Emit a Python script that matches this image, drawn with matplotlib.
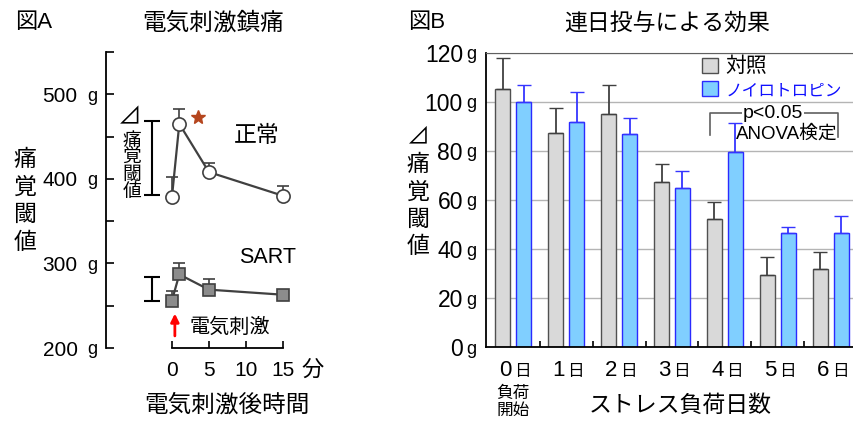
import matplotlib
matplotlib.use("Agg")
import matplotlib.pyplot as plt
from matplotlib.patches import Patch
import numpy as np

plt.rcParams['font.family'] = ['Liberation Sans', 'Noto Sans CJK JP']

# 図A: 電気刺激鎮痛 (g)
time_min = [0, 1, 5, 15]
normal_g = [378, 465, 408, 380]
normal_err = [24, 18, 11, 12]
sart_g = [256, 287, 269, 263]
sart_err = [11, 14, 13, 0]
a_yticks = [200, 300, 400, 500]
a_minor = [250, 350, 450, 550]
a_xticks = [0, 5, 10, 15]

# 図B: 連日投与による効果 (g)
days = ['0', '1', '2', '3', '4', '5', '6']
control = [105.2, 87.4, 95.0, 67.3, 52.3, 29.5, 31.8]
control_err = [12.5, 9.9, 12.0, 7.2, 7.0, 7.1, 7.2]
neuro = [100.0, 91.9, 87.0, 64.7, 79.4, 46.6, 46.6]
neuro_err = [7.0, 12.2, 6.5, 7.2, 11.8, 2.5, 6.7]
b_yticks = [0, 20, 40, 60, 80, 100, 120]

W, H = 854, 421
def fy(py):
    return 1 - py / H

fig = plt.figure(figsize=(W / 100, H / 100), dpi=100)

# ---------- panel A ----------
axA = fig.add_axes([106 / W, fy(348), 194 / W, 296 / H])
axA.set_xlim(-8.9, 17.3)
axA.set_ylim(200, 550)
for s in ['top', 'right']:
    axA.spines[s].set_visible(False)
axA.spines['bottom'].set_bounds(0, 15)
axA.spines['left'].set_linewidth(1.3)
axA.spines['bottom'].set_linewidth(1.3)

zeros = np.zeros(len(time_min))
axA.errorbar(time_min, normal_g, yerr=[zeros, normal_err], fmt='-o', color='#404040',
             mfc='white', mec='#404040', ms=9.5, mew=1.2, lw=1.6, capsize=4, elinewidth=1.2)
axA.errorbar(time_min, sart_g, yerr=[zeros, sart_err], fmt='-s', color='#404040',
             mfc='#8c8c8c', mec='#404040', ms=8, mew=1.2, lw=1.6, capsize=4, elinewidth=1.2)
axA.plot(3.5, 473, marker='*', color='#b5461e', ms=10, ls='none')

axA.set_yticks(a_yticks, [str(v) for v in a_yticks])
axA.set_yticks(a_minor, minor=True)
axA.tick_params(axis='y', which='both', direction='in', length=6, width=1.2,
                labelsize=15, pad=20.5)
for v in a_yticks:
    axA.annotate('g', xy=(0, v), xycoords=axA.get_yaxis_transform(), xytext=(-6.5, 0),
                 textcoords='offset points', ha='right', va='center_baseline', fontsize=13)
axA.set_xticks(a_xticks, [str(v) for v in a_xticks])
axA.tick_params(axis='x', direction='in', length=5, width=1.2, labelsize=15, pad=9)

# brackets
axA.errorbar(-2.7, 425, yerr=44, color='black', capsize=6, lw=1.5, capthick=1.5)
axA.errorbar(-2.7, 269.5, yerr=14.5, color='black', capsize=6, lw=1.5, capthick=1.5)
axA.text(-5.7, 471, '⊿', fontsize=17, ha='center', va='center')
axA.text(-5.4, 414, '痛\n覚\n閾\n値', fontsize=13.5, linespacing=1.0, ha='center', va='center')
axA.annotate('', xy=(0.4, 244), xytext=(0.4, 211),
             arrowprops=dict(arrowstyle='-|>', color='red', lw=2, mutation_scale=12))
axA.text(7.8, 224, '電気刺激', fontsize=14.5, ha='center', va='center')
axA.text(11.4, 451, '正常', fontsize=16.5, ha='center', va='center')
axA.text(12.9, 307, 'SART', fontsize=15.5, ha='center', va='center')

fig.text(313 / W, fy(370), '分', fontsize=16, ha='center', va='center')
fig.text(15 / W, fy(23), '図A', fontsize=16, ha='left', va='center')
fig.text(213 / W, fy(23), '電気刺激鎮痛', fontsize=17, ha='center', va='center')
fig.text(25 / W, fy(201), '痛\n覚\n閾\n値', fontsize=16.5, linespacing=1.25, ha='center', va='center')
fig.text(227 / W, fy(405), '電気刺激後時間', fontsize=17, ha='center', va='center')

# ---------- panel B ----------
axB = fig.add_axes([486 / W, fy(347.3), 372 / W, 294.7 / H])
x = np.arange(len(days))
bw = 0.283
axB.bar(x - 0.198, control, width=bw, color='#d9d9d9', edgecolor='#505050', lw=1, zorder=2)
axB.bar(x + 0.198, neuro, width=bw, color='#80cfff', edgecolor='#2a2aff', lw=1, zorder=2)
z7 = np.zeros(len(days))
axB.errorbar(x - 0.198, control, yerr=[z7, control_err], fmt='none', ecolor='#404040',
             capsize=5, elinewidth=1.3, zorder=3)
axB.errorbar(x + 0.198, neuro, yerr=[z7, neuro_err], fmt='none', ecolor='#3535ff',
             capsize=5, elinewidth=1.3, zorder=3)

axB.set_xlim(-0.51, 6.51)
axB.set_ylim(0, 120)
axB.yaxis.grid(True, color='#b4b4b4', lw=1)
axB.set_axisbelow(True)
axB.spines['top'].set_color('#606060')
axB.spines['left'].set_linewidth(1.3)
axB.spines['bottom'].set_linewidth(1.3)

axB.set_yticks(b_yticks, [str(v) for v in b_yticks])
axB.tick_params(axis='y', length=0, labelsize=16.5, pad=16.6)
for v in b_yticks:
    axB.annotate('g', xy=(0, v), xycoords=axB.get_yaxis_transform(), xytext=(-7, 0),
                 textcoords='offset points', ha='right', va='center_baseline', fontsize=13)
axB.set_xticks([])
axB.set_xticks(x[:-1] + 0.5, minor=True)
axB.tick_params(axis='x', which='minor', direction='in', length=4, width=1.2)
for i, d in enumerate(days):
    axB.annotate(d, xy=(i, 0), xycoords=axB.get_xaxis_transform(), xytext=(-1, -16.5),
                 textcoords='offset points', ha='right', va='center', fontsize=16)
    axB.annotate('日', xy=(i, 0), xycoords=axB.get_xaxis_transform(), xytext=(0.5, -17.5),
                 textcoords='offset points', ha='left', va='center', fontsize=12)

handles = [Patch(fc='#d9d9d9', ec='#505050'), Patch(fc='#80cfff', ec='#2a2aff')]
leg = axB.legend(handles, ['対照', 'ノイロトロピン'], loc='upper left',
                 bbox_to_anchor=(0.555, 1.02), frameon=False, fontsize=14,
                 handlelength=0.8, handleheight=0.8, handletextpad=0.4,
                 labelspacing=0.25, borderaxespad=0.1)
leg.get_texts()[0].set_fontsize(15)
leg.get_texts()[1].set_fontsize(12)
leg.get_texts()[1].set_color('#1010ff')

axB.plot([3.72, 3.72, 6.13, 6.13], [86.5, 95.3, 95.3, 85.5], color='#606060', lw=1.2)
axB.text(4.9, 95.3, 'p<0.05', fontsize=14, ha='center', va='center',
         bbox=dict(fc='white', ec='none', pad=0.5))
axB.text(5.17, 86.8, 'ANOVA検定', fontsize=13.5, ha='center', va='center')

fig.text(408 / W, fy(23), '図B', fontsize=16, ha='left', va='center')
fig.text(667 / W, fy(23), '連日投与による効果', fontsize=16.5, ha='center', va='center')
fig.text(418 / W, fy(192), '⊿\n痛\n覚\n閾\n値', fontsize=16.5, linespacing=1.25,
         ha='center', va='center')
fig.text(513 / W, fy(402), '負荷\n開始', fontsize=12, linespacing=1.15, ha='center', va='center')
fig.text(680 / W, fy(405), 'ストレス負荷日数', fontsize=16.5, ha='center', va='center')

fig.savefig('out.png', dpi=100)
